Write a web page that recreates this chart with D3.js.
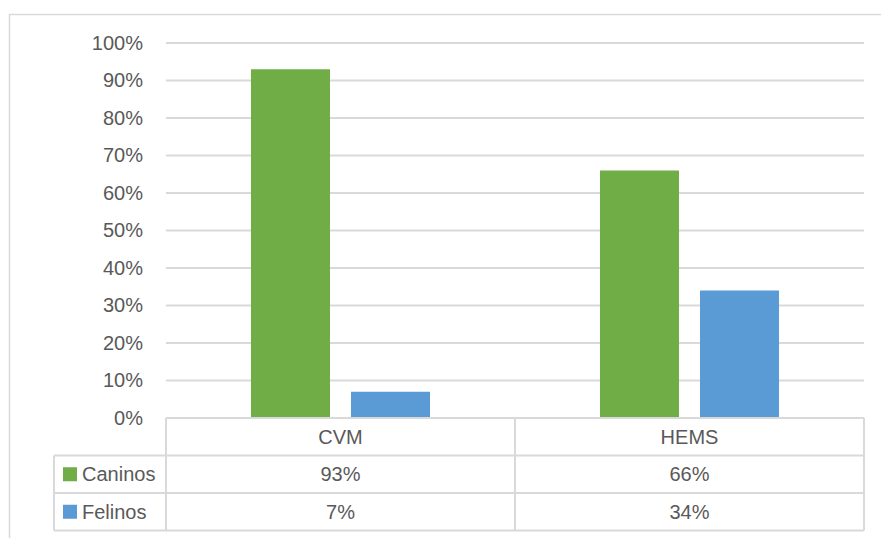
<!DOCTYPE html>
<html>
<head>
<meta charset="utf-8">
<script src="https://cdn.jsdelivr.net/npm/d3@7"></script>
<style>
  html, body { margin: 0; padding: 0; background: #fff; }
  svg text { font-family: "Liberation Sans", Arial, sans-serif; fill: #595959; }
</style>
</head>
<body>
<svg id="chart" width="881" height="538"></svg>
<script>
// Categories, series and values
const categories = ["CVM", "HEMS"];
const seriesNames = ["Caninos", "Felinos"];
const caninos = [0.93, 0.66];
const felinos = [0.07, 0.34];
const seriesColors = ["#70ad47", "#5b9bd5"];
const yTicks = [0, 0.1, 0.2, 0.3, 0.4, 0.5, 0.6, 0.7, 0.8, 0.9, 1.0];

const seriesValues = [caninos, felinos];
const svg = d3.select("#chart");
const gridColor = "#d9d9d9";
const fmt = d3.format(".0%");

// Plot area
const plotLeft = 166, plotRight = 864, plotTop = 43, plotBottom = 418;
const rowH = 37.5;
const legendLeft = 54;

const x0 = d3.scaleBand().domain(categories).range([plotLeft, plotRight]).padding(0);
const x1 = d3.scaleBand().domain(seriesNames)
  .range([x0.bandwidth() * 0.2435, x0.bandwidth() * 0.7565])
  .paddingInner(0.21);
const y = d3.scaleLinear().domain([0, 1]).range([plotBottom, plotTop]);

// Outer chart border (top and left edges)
svg.append("path")
  .attr("d", "M9.5,538 V14.5 H881")
  .attr("fill", "none").attr("stroke", gridColor).attr("stroke-width", 1.5);

// Gridlines
svg.append("g").selectAll("line").data(yTicks.filter(t => t > 0)).join("line")
  .attr("x1", plotLeft).attr("x2", plotRight)
  .attr("y1", d => y(d)).attr("y2", d => y(d))
  .attr("stroke", gridColor).attr("stroke-width", 2);

// Y axis labels
const yAxis = d3.axisLeft(y).tickValues(yTicks).tickFormat(fmt).tickSize(0).tickPadding(23);
const gy = svg.append("g").attr("transform", `translate(${plotLeft},0)`).call(yAxis);
gy.select(".domain").remove();
gy.selectAll("text").attr("font-size", 20).attr("fill", "#595959")
  .attr("font-family", "Liberation Sans, Arial, sans-serif");

// Bars
const groups = svg.append("g").selectAll("g").data(categories).join("g")
  .attr("transform", d => `translate(${x0(d)},0)`);
groups.selectAll("rect")
  .data((d, i) => seriesNames.map((s, j) => ({ s, v: seriesValues[j][i], c: seriesColors[j] })))
  .join("rect")
  .attr("x", d => x1(d.s))
  .attr("width", x1.bandwidth())
  .attr("y", d => y(d.v))
  .attr("height", d => y(0) - y(d.v))
  .attr("fill", d => d.c);

// Data table below the axis
const table = svg.append("g");
const tLine = (xa, ya, xb, yb) => table.append("line")
  .attr("x1", xa).attr("y1", ya).attr("x2", xb).attr("y2", yb)
  .attr("stroke", gridColor).attr("stroke-width", 2);

const rowTop = i => plotBottom + rowH * i;
tLine(plotLeft, plotBottom, plotRight, plotBottom);
for (let i = 1; i <= 3; i++) tLine(legendLeft, rowTop(i), plotRight, rowTop(i));
tLine(legendLeft, rowTop(1), legendLeft, rowTop(3));
categories.forEach(c => tLine(x0(c), plotBottom, x0(c), rowTop(3)));
tLine(plotRight, plotBottom, plotRight, rowTop(3));

// Header row: category names
table.selectAll("text.cat").data(categories).join("text")
  .attr("class", "cat")
  .attr("x", d => x0(d) + x0.bandwidth() / 2)
  .attr("y", plotBottom + rowH / 2)
  .attr("dy", "0.35em").attr("text-anchor", "middle").attr("font-size", 20)
  .text(d => d);

// Series rows: legend key + values
seriesNames.forEach((s, j) => {
  const cy = rowTop(j + 1) + rowH / 2;
  table.append("rect")
    .attr("x", 63).attr("y", cy - 7).attr("width", 14).attr("height", 14)
    .attr("fill", seriesColors[j]);
  table.append("text")
    .attr("x", 82).attr("y", cy).attr("dy", "0.35em").attr("font-size", 20)
    .text(s);
  categories.forEach((c, i) => {
    table.append("text")
      .attr("x", x0(c) + x0.bandwidth() / 2).attr("y", cy)
      .attr("dy", "0.35em").attr("text-anchor", "middle").attr("font-size", 20)
      .text(fmt(seriesValues[j][i]));
  });
});
</script>
</body>
</html>
